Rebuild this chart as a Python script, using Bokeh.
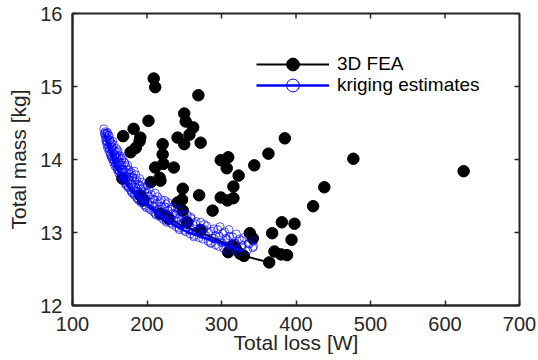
import math
from bokeh.plotting import figure
from bokeh.models import FixedTicker, Range1d, Legend, LegendItem
from bokeh.embed import file_html
from bokeh.resources import INLINE

# ---- data ----
x_ticks = [100, 200, 300, 400, 500, 600, 700]
y_ticks = [12, 13, 14, 15, 16]
x_lim = [100, 700]
y_lim = [12, 16]
x_title = "Total loss [W]"
y_title = "Total mass [kg]"

fea_loss = [209, 211, 269, 202, 250, 252, 262, 257, 241, 250, 272, 182, 168, 191, 190,
            185, 178, 221, 221, 211, 222, 236, 217, 299, 309, 307, 323, 344, 363, 385,
            477, 625, 316, 316, 438, 423, 381, 398, 368, 394, 338, 342, 371, 380, 388,
            364, 248, 270, 288, 299, 308, 247, 325, 330, 319, 309, 167, 218, 195, 225,
            248, 272, 315, 191, 241, 218, 229, 254, 205]
fea_mass = [15.11, 14.99, 14.88, 14.53, 14.63, 14.52, 14.44, 14.34, 14.30, 14.21, 14.23,
            14.42, 14.32, 14.30, 14.25, 14.16, 14.10, 14.21, 14.07, 13.89, 13.94, 13.89,
            13.75, 13.99, 14.03, 13.88, 13.78, 13.92, 14.08, 14.29, 14.01, 13.84, 13.63,
            13.47, 13.62, 13.36, 13.14, 13.12, 12.99, 12.90, 12.99, 12.92, 12.74, 12.70,
            12.69, 12.59, 13.60, 13.51, 13.30, 13.48, 13.44, 13.45, 12.71, 12.68, 12.78,
            12.73, 13.74, 13.71, 13.44, 13.23, 13.30, 13.03, 12.82, 13.51, 13.41, 13.26,
            13.19, 13.14, 13.69]

fea_front_loss = [147, 155, 167, 180, 195, 210, 225, 245, 272, 295, 315, 325, 330, 364]
fea_front_mass = [14.25, 14.02, 13.74, 13.55, 13.44, 13.32, 13.23, 13.10, 13.00, 12.90,
                  12.80, 12.71, 12.68, 12.59]

krig_loss = [142, 144, 143, 146, 143, 145, 147, 149,
             144, 146, 148, 150, 145, 145, 147, 150, 152, 154,
             146, 148, 151, 153, 155, 149, 147, 150, 153, 156, 159, 161,
             149, 151, 154, 157, 160, 162, 152, 151, 154, 157, 160, 164, 167, 155,
             153, 156, 159, 163, 166, 170, 158, 155, 158, 162, 166, 170, 174, 160,
             157, 160, 164, 168, 172, 176, 162, 160, 163, 167, 171, 175, 179, 183,
             162, 165, 169, 173, 177, 181, 185, 167, 165, 169, 173, 177, 181, 186, 190,
             168, 171, 175, 179, 184, 188, 193, 173, 171, 175, 180, 185, 190, 195, 200,
             175, 178, 182, 187, 192, 197, 203, 180, 179, 183, 188, 194, 200, 206, 211,
             183, 186, 191, 196, 202, 208, 214, 219, 189, 187, 192, 198, 204, 210, 217, 224, 228,
             192, 196, 201, 207, 213, 219, 226, 233, 199, 198, 203, 210, 217, 224, 231, 238, 243,
             205, 209, 215, 221, 228, 235, 242, 249, 212, 211, 216, 223, 231, 239, 247, 254, 259,
             218, 222, 229, 236, 243, 251, 259, 266, 226, 226, 232, 240, 248, 256, 265, 272, 277,
             234, 239, 246, 254, 262, 271, 280, 290, 298, 243, 243, 250, 258, 267, 276, 286, 295, 304, 310,
             252, 258, 266, 274, 283, 292, 302, 311, 320, 263, 263, 270, 279, 288, 297, 306, 315, 324, 330,
             275, 282, 290, 299, 308, 317, 327, 336, 343, 286, 285, 292, 301, 310, 319, 328, 337, 343,
             296, 303, 311, 319, 327, 335, 342, 308, 322]
krig_mass = [14.42, 14.38, 14.35, 14.36, 14.36, 14.34, 14.37, 14.33,
             14.31, 14.29, 14.33, 14.27, 14.25, 14.26, 14.24, 14.26, 14.23, 14.25,
             14.21, 14.18, 14.22, 14.17, 14.20, 14.15, 14.16, 14.14, 14.16, 14.13, 14.15, 14.12,
             14.11, 14.08, 14.12, 14.07, 14.10, 14.05, 14.04, 14.06, 14.04, 14.06, 14.03, 14.05, 14.02, 14.00,
             14.01, 13.98, 14.02, 13.97, 14.00, 13.96, 13.94, 13.96, 13.93, 13.96, 13.93, 13.95, 13.92, 13.90,
             13.91, 13.88, 13.92, 13.87, 13.90, 13.86, 13.85, 13.86, 13.83, 13.86, 13.83, 13.85, 13.82, 13.84,
             13.81, 13.78, 13.82, 13.77, 13.80, 13.76, 13.79, 13.74, 13.76, 13.73, 13.76, 13.72, 13.75, 13.72, 13.74,
             13.71, 13.68, 13.72, 13.67, 13.70, 13.66, 13.69, 13.64, 13.66, 13.63, 13.66, 13.62, 13.65, 13.62, 13.64,
             13.61, 13.58, 13.62, 13.57, 13.60, 13.56, 13.59, 13.54, 13.56, 13.53, 13.56, 13.52, 13.55, 13.52, 13.54,
             13.51, 13.48, 13.52, 13.47, 13.50, 13.46, 13.49, 13.45, 13.44, 13.46, 13.43, 13.46, 13.42, 13.45, 13.42, 13.44, 13.41,
             13.41, 13.38, 13.42, 13.37, 13.40, 13.36, 13.39, 13.35, 13.34, 13.36, 13.33, 13.36, 13.32, 13.35, 13.32, 13.34, 13.31,
             13.31, 13.28, 13.32, 13.27, 13.30, 13.26, 13.29, 13.25, 13.24, 13.26, 13.23, 13.26, 13.22, 13.25, 13.22, 13.24, 13.21,
             13.21, 13.18, 13.22, 13.17, 13.20, 13.16, 13.19, 13.15, 13.14, 13.16, 13.13, 13.16, 13.12, 13.15, 13.12, 13.14, 13.11,
             13.11, 13.08, 13.12, 13.07, 13.10, 13.06, 13.09, 13.05, 13.08, 13.04, 13.06, 13.03, 13.06, 13.02, 13.05, 13.02, 13.04, 13.01, 13.04,
             13.01, 12.98, 13.02, 12.97, 13.00, 12.96, 12.99, 12.95, 12.98, 12.94, 12.96, 12.93, 12.96, 12.92, 12.95, 12.92, 12.94, 12.91, 12.93,
             12.91, 12.88, 12.92, 12.87, 12.90, 12.86, 12.89, 12.85, 12.88, 12.85, 12.86, 12.83, 12.86, 12.82, 12.85, 12.82, 12.84, 12.81,
             12.81, 12.78, 12.82, 12.77, 12.80, 12.76, 12.79, 12.75, 12.73]

krig_front_loss = [143, 147, 152, 158, 165, 172, 180, 190, 200, 212, 225, 240, 255, 270,
                   285, 300, 315, 328]
krig_front_mass = [14.35, 14.20, 14.05, 13.90, 13.78, 13.68, 13.57, 13.45, 13.37, 13.27,
                   13.17, 13.08, 13.00, 12.95, 12.90, 12.85, 12.79, 12.74]

# ---- style ----
FONT = "Liberation Sans"
AX = "#262626"

p = figure(width=538, height=360, output_backend="svg", toolbar_location=None,
           x_range=Range1d(*x_lim), y_range=Range1d(*y_lim),
           min_border_left=72, min_border_right=19, min_border_top=13, min_border_bottom=55)
p.grid.visible = False
p.outline_line_color = AX
p.outline_line_width = 2
p.background_fill_color = "white"
p.border_fill_color = "white"

# black FEA
fea_line = p.line(fea_front_loss, fea_front_mass, line_color="black", line_width=2)
fea_pts = p.scatter(fea_loss, fea_mass, size=11.5, marker="circle", fill_color="black", line_color="black")
# kriging
p.scatter(krig_loss, krig_mass, size=8, marker="circle", fill_color=None,
          line_color="blue", line_alpha=0.65, line_width=1)
krig_line = p.line(krig_front_loss, krig_front_mass, line_color="blue", line_width=2.5)
# legend-only marker (hidden on the plot)
krig_key = p.scatter(krig_loss, krig_mass, marker="circle", fill_color=None,
                     line_color="blue", line_width=1, visible=False)

# inward ticks on top and right edges
p.ray(x=x_ticks, y=[y_lim[1]] * len(x_ticks), length=5, length_units="screen",
      angle=-math.pi / 2, line_color=AX, line_width=1.5)
p.ray(x=[x_lim[1]] * len(y_ticks), y=y_ticks, length=5, length_units="screen",
      angle=math.pi, line_color=AX, line_width=1.5)

def make_legend(label, renderers, y_loc):
    return Legend(items=[LegendItem(label=label, renderers=renderers)],
                  location=(184, y_loc), glyph_width=73, glyph_height=32, label_height=20,
                  label_standoff=8, padding=0, margin=0, spacing=0,
                  label_text_font=FONT, label_text_font_size="19px", label_text_color="black",
                  border_line_color=None, background_fill_alpha=0, inactive_fill_alpha=0)

p.add_layout(make_legend("3D FEA", [fea_line, fea_pts], 225))
p.add_layout(make_legend("kriging estimates", [krig_line, krig_key], 204))

def style_axis(ax):
    ax.axis_line_color = AX
    ax.axis_line_width = 2
    ax.major_tick_line_color = AX
    ax.major_tick_line_width = 1.5
    ax.major_tick_in = 5
    ax.major_tick_out = 0
    ax.minor_tick_line_color = None
    ax.major_label_text_font = FONT
    ax.major_label_text_color = AX
    ax.major_label_text_font_size = "20px"
    ax.axis_label_text_font = FONT
    ax.axis_label_text_font_size = "21px"
    ax.axis_label_text_font_style = "normal"
    ax.axis_label_text_color = AX

p.xaxis.ticker = FixedTicker(ticks=x_ticks)
p.yaxis.ticker = FixedTicker(ticks=y_ticks)
p.xaxis.axis_label = x_title
p.yaxis.axis_label = y_title
style_axis(p.xaxis[0])
style_axis(p.yaxis[0])
p.xaxis.major_label_standoff = 11
p.xaxis.axis_label_standoff = -3
p.yaxis.major_label_standoff = 10
p.yaxis.axis_label_standoff = 7

open("out.html", "w").write(file_html(p, INLINE))
